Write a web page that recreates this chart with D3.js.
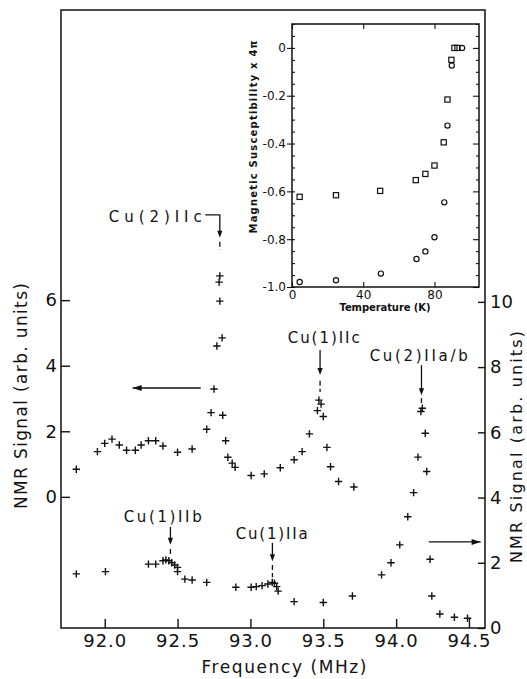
<!DOCTYPE html>
<html>
<head>
<meta charset="utf-8">
<script src="https://cdn.jsdelivr.net/npm/d3@7"></script>
<style>
  html, body { margin: 0; padding: 0; background: #fff; }
  svg { display: block; font-family: "DejaVu Sans", "Liberation Sans", sans-serif; }
</style>
</head>
<body>
<svg id="chart" width="527" height="679"></svg>
<script>
// Upper NMR trace (read on the left axis)
const upperFreq = [91.805, 91.95, 92.00, 92.05, 92.10, 92.15, 92.21, 92.25, 92.30, 92.35,
  92.40, 92.50, 92.60, 92.70, 92.73, 92.75, 92.77, 92.806, 92.79, 92.785, 92.79,
  92.81, 92.83, 92.845, 92.875, 92.895, 93.005, 93.095, 93.205, 93.30, 93.355,
  93.405, 93.46, 93.47, 93.485, 93.50, 93.525, 93.55, 93.605, 93.71];
const upperSignal = [0.84, 1.38, 1.63, 1.76, 1.58, 1.42, 1.42, 1.58, 1.71, 1.71,
  1.55, 1.36, 1.46, 2.06, 2.57, 3.29, 4.60, 4.85, 5.97, 6.55, 6.74,
  2.49, 1.71, 1.21, 1.03, 0.90, 0.65, 0.70, 0.89, 1.13, 1.38,
  1.92, 2.63, 2.95, 2.83, 2.45, 1.51, 0.92, 0.47, 0.30];

// Lower NMR trace (read on the right axis)
const lowerFreq = [91.805, 92.005, 92.30, 92.35, 92.40, 92.42, 92.44, 92.46, 92.48, 92.50,
  92.50, 92.55, 92.60, 92.70, 92.90, 93.005, 93.04, 93.08, 93.12, 93.15, 93.165,
  93.18, 93.19, 93.30, 93.50, 93.70, 93.90, 93.965, 94.025, 94.08, 94.12,
  94.15, 94.17, 94.18, 94.20, 94.21, 94.233, 94.245, 94.30, 94.40, 94.49];
const lowerSignal = [1.66, 1.73, 1.96, 1.96, 2.06, 2.09, 2.06, 2.00, 1.93, 1.86,
  1.73, 1.50, 1.47, 1.40, 1.25, 1.25, 1.27, 1.30, 1.35, 1.40, 1.37,
  1.27, 1.13, 0.81, 0.78, 0.98, 1.63, 2.00, 2.55, 3.41, 4.15,
  5.24, 6.64, 6.74, 5.97, 4.80, 2.11, 0.98, 0.43, 0.33, 0.30];

const freqTicks = [92.0, 92.5, 93.0, 93.5, 94.0, 94.5];
const leftTicks = [0, 2, 4, 6];
const rightTicks = [0, 2, 4, 6, 8, 10];

// Inset: magnetic susceptibility (x 4π) against temperature
const squareTemp = [4.3, 24.7, 49.5, 69.5, 74.9, 80.0, 85.2, 87.3, 89.5, 91.2, 92.9];
const squareChi = [-0.623, -0.616, -0.598, -0.553, -0.527, -0.492, -0.395, -0.216, -0.05, 0, 0];
const circleTemp = [4.3, 24.7, 49.9, 69.9, 74.9, 80.0, 85.5, 87.3, 89.7, 95.5];
const circleChi = [-0.979, -0.972, -0.944, -0.883, -0.851, -0.792, -0.646, -0.325, -0.074, 0];
const chiTicks = [0, -0.2, -0.4, -0.6, -0.8, -1.0];
const tempTicks = [0, 40, 80];

// Peak callouts
const peakLabels = ["Cu(2)IIc", "Cu(1)IIc", "Cu(2)IIa/b", "Cu(1)IIb", "Cu(1)IIa"];

const svg = d3.select("#chart");
const ink = "#111";

// ---- main panel ----
const frame = { left: 61, right: 485, top: 10, bottom: 628 };
const x = d3.scaleLinear().domain([91.7, 94.61]).range([frame.left, frame.right]);
const yL = d3.scaleLinear().domain([-4, 14.85]).range([frame.bottom, frame.top]);
const yR = d3.scaleLinear().domain([0, 18.95]).range([frame.bottom, frame.top]);

function styleAxis(g, size) {
  g.select(".domain").remove();
  g.selectAll(".tick line").attr("stroke", ink).attr("stroke-width", 1.4);
  g.selectAll(".tick text").attr("fill", ink).attr("font-size", size)
    .attr("font-family", '"DejaVu Sans", sans-serif');
}

svg.append("g")
  .attr("transform", `translate(0,${frame.bottom})`)
  .call(d3.axisBottom(x).tickValues(freqTicks).tickFormat(d3.format(".1f"))
    .tickSizeInner(-9).tickSizeOuter(0).tickPadding(6))
  .call(g => styleAxis(g, 18))
  .call(g => g.selectAll(".tick text").attr("letter-spacing", 1));

svg.append("g")
  .attr("transform", `translate(${frame.left},0)`)
  .call(d3.axisLeft(yL).tickValues(leftTicks).tickFormat(d3.format("d"))
    .tickSizeInner(-9).tickSizeOuter(0).tickPadding(4))
  .call(g => styleAxis(g, 18));

svg.append("g")
  .attr("transform", `translate(${frame.right},0)`)
  .call(d3.axisRight(yR).tickValues(rightTicks).tickFormat(d3.format("d"))
    .tickSizeInner(-7).tickSizeOuter(0).tickPadding(5))
  .call(g => styleAxis(g, 18));

svg.append("rect")
  .attr("x", frame.left).attr("y", frame.top)
  .attr("width", frame.right - frame.left).attr("height", frame.bottom - frame.top)
  .attr("fill", "none").attr("stroke", ink).attr("stroke-width", 1.5);

// axis titles
svg.append("text")
  .attr("x", (frame.left + frame.right) / 2 + 11).attr("y", 673)
  .attr("text-anchor", "middle").attr("font-size", 17).attr("fill", ink)
  .attr("textLength", 165).attr("lengthAdjust", "spacing")
  .text("Frequency (MHz)");

svg.append("text")
  .attr("transform", "translate(27,396) rotate(-90)")
  .attr("text-anchor", "middle").attr("font-size", 17).attr("fill", ink)
  .attr("textLength", 226).attr("lengthAdjust", "spacing")
  .text("NMR Signal (arb. units)");

svg.append("text")
  .attr("transform", "translate(522,447) rotate(-90)")
  .attr("text-anchor", "middle").attr("font-size", 16).attr("fill", ink)
  .attr("textLength", 232).attr("lengthAdjust", "spacing")
  .text("NMR Signal (arb. units)");

// plus markers
const plusPath = "M-3.7,0H3.7M0,-3.7V3.7";
function plotPlus(fs, vs, yScale) {
  svg.append("g").selectAll("path")
    .data(d3.zip(fs, vs))
    .join("path")
    .attr("d", plusPath)
    .attr("transform", d => `translate(${x(d[0])},${yScale(d[1])})`)
    .attr("stroke", ink).attr("stroke-width", 1.4).attr("fill", "none");
}
plotPlus(upperFreq, upperSignal, yL);
plotPlus(lowerFreq, lowerSignal, yR);

// arrowhead helper: tip at (tx,ty) pointing along (dx,dy)
function arrowHead(tx, ty, dx, dy, len = 8, half = 3) {
  const px = -dy, py = dx;
  const bx = tx - dx * len, by = ty - dy * len;
  svg.append("path")
    .attr("d", `M${tx},${ty}L${bx + px * half},${by + py * half}L${bx - px * half},${by - py * half}Z`)
    .attr("fill", ink);
}

// which axis each trace is read on
const axisArrows = [
  { scale: yL, from: 92.659, to: 92.192, v: 3.32 },
  { scale: yR, from: 94.225, to: 94.58, v: 2.64 }
];
axisArrows.forEach(a => {
  const y0 = a.scale(a.v);
  svg.append("line")
    .attr("x1", x(a.from)).attr("x2", x(a.to)).attr("y1", y0).attr("y2", y0)
    .attr("stroke", ink).attr("stroke-width", 1.4);
  arrowHead(x(a.to), y0, Math.sign(a.to - a.from), 0, 9, 3);
});

// callout layout (value units on the trace's own axis)
const callouts = [
  { scale: yL, f: 92.79, textF: 92.666, anchor: "end", textV: 8.54, elbowF: 92.69, top: 8.60, tip: 7.90, dash: [7.78, 7.53], len: 93 },
  { scale: yL, f: 93.478, textF: 93.503, anchor: "middle", textV: 4.85, top: 4.48, tip: 3.72, dash: [3.54, 3.20], len: 72 },
  { scale: yR, f: 94.174, textF: 94.155, anchor: "middle", textV: 8.34, top: 8.06, tip: 7.14, dash: [7.05, 6.81], len: 98 },
  { scale: yR, f: 92.451, textF: 92.398, anchor: "middle", textV: 3.43, top: 3.10, tip: 2.55, dash: [2.42, 2.21], len: 78 },
  { scale: yR, f: 93.151, textF: 93.146, anchor: "middle", textV: 2.88, top: 2.61, tip: 2.05, dash: [1.93, 1.56], len: 72 }
];
callouts.forEach((c, i) => {
  const s = c.scale;
  const ax = x(c.f);
  svg.append("text")
    .attr("x", x(c.textF)).attr("y", s(c.textV)).attr("dy", "0.36em")
    .attr("text-anchor", c.anchor).attr("font-size", 15).attr("fill", ink)
    .attr("textLength", c.len).attr("lengthAdjust", "spacing")
    .text(peakLabels[i]);
  const tipY = s(c.tip);
  const d = c.elbowF !== undefined
    ? `M${x(c.elbowF)},${s(c.top)}H${ax}V${tipY - 6}`
    : `M${ax},${s(c.top)}V${tipY - 6}`;
  svg.append("path").attr("d", d).attr("fill", "none")
    .attr("stroke", ink).attr("stroke-width", 1.3);
  arrowHead(ax, tipY, 0, 1, 7, 2.6);
  svg.append("line")
    .attr("x1", ax).attr("x2", ax).attr("y1", s(c.dash[0])).attr("y2", s(c.dash[1]))
    .attr("stroke", ink).attr("stroke-width", 1.3).attr("stroke-dasharray", "5,3");
});

// ---- inset ----
const inset = { left: 292, right: 479, top: 24, bottom: 287 };
const xi = d3.scaleLinear().domain([0, 105]).range([inset.left, inset.right]);
const yi = d3.scaleLinear().domain([-1.0, 0.1]).range([inset.bottom, inset.top]);
const chiFmt = d => d === 0 ? "0" : d3.format(".1f")(d).replace("\u2212", "-");
const minorChi = d3.range(-1.0, 0.101, 0.05).map(v => +v.toFixed(2))
  .filter(v => Math.abs(Math.round(v * 5) - v * 5) > 1e-6);

const ig = svg.append("g");
ig.append("g").attr("transform", `translate(${inset.left},0)`)
  .call(d3.axisLeft(yi).tickValues(chiTicks).tickFormat(chiFmt).tickSizeInner(5).tickSizeOuter(0).tickPadding(1))
  .call(g => styleAxis(g, 12));
ig.append("g").attr("transform", `translate(${inset.left},0)`)
  .call(d3.axisLeft(yi).tickValues(minorChi.concat(chiTicks)).tickFormat("").tickSizeInner(-3).tickSizeOuter(0))
  .call(g => styleAxis(g, 12));
ig.append("g").attr("transform", `translate(${inset.right},0)`)
  .call(d3.axisRight(yi).tickValues(chiTicks).tickFormat("").tickSizeInner(-6).tickSizeOuter(0))
  .call(g => styleAxis(g, 12));
ig.append("g").attr("transform", `translate(${inset.right},0)`)
  .call(d3.axisRight(yi).tickValues(minorChi).tickFormat("").tickSizeInner(-3).tickSizeOuter(0))
  .call(g => styleAxis(g, 12));
ig.append("g").attr("transform", `translate(0,${inset.bottom})`)
  .call(d3.axisBottom(xi).tickValues(tempTicks).tickFormat(d3.format("d")).tickSizeInner(-5).tickSizeOuter(0).tickPadding(3))
  .call(g => styleAxis(g, 12));
ig.append("g").attr("transform", `translate(0,${inset.top})`)
  .call(d3.axisTop(xi).tickValues(tempTicks).tickFormat("").tickSizeInner(-5).tickSizeOuter(0))
  .call(g => styleAxis(g, 12));
ig.selectAll(".tick line").attr("stroke-width", 1.1);

ig.append("rect")
  .attr("x", inset.left).attr("y", inset.top)
  .attr("width", inset.right - inset.left).attr("height", inset.bottom - inset.top)
  .attr("fill", "none").attr("stroke", ink).attr("stroke-width", 1.5);

ig.selectAll("rect.sq")
  .data(d3.zip(squareTemp, squareChi))
  .join("rect").attr("class", "sq")
  .attr("x", d => xi(d[0]) - 2.6).attr("y", d => yi(d[1]) - 2.6)
  .attr("width", 5.2).attr("height", 5.2)
  .attr("fill", "none").attr("stroke", ink).attr("stroke-width", 1.2);

ig.selectAll("circle.ci")
  .data(d3.zip(circleTemp, circleChi))
  .join("circle").attr("class", "ci")
  .attr("cx", d => xi(d[0])).attr("cy", d => yi(d[1])).attr("r", 2.6)
  .attr("fill", "none").attr("stroke", ink).attr("stroke-width", 1.2);

ig.append("text")
  .attr("transform", `translate(257,137) rotate(-90)`)
  .attr("text-anchor", "middle").attr("font-size", 10).attr("font-weight", "bold").attr("fill", ink)
  .attr("textLength", 193).attr("lengthAdjust", "spacing")
  .text("Magnetic Susceptibility x 4\u03c0");

ig.append("text")
  .attr("x", 385).attr("y", 311)
  .attr("text-anchor", "middle").attr("font-size", 10).attr("font-weight", "bold").attr("fill", ink)
  .attr("textLength", 91).attr("lengthAdjust", "spacing")
  .text("Temperature (K)");
</script>
</body>
</html>
